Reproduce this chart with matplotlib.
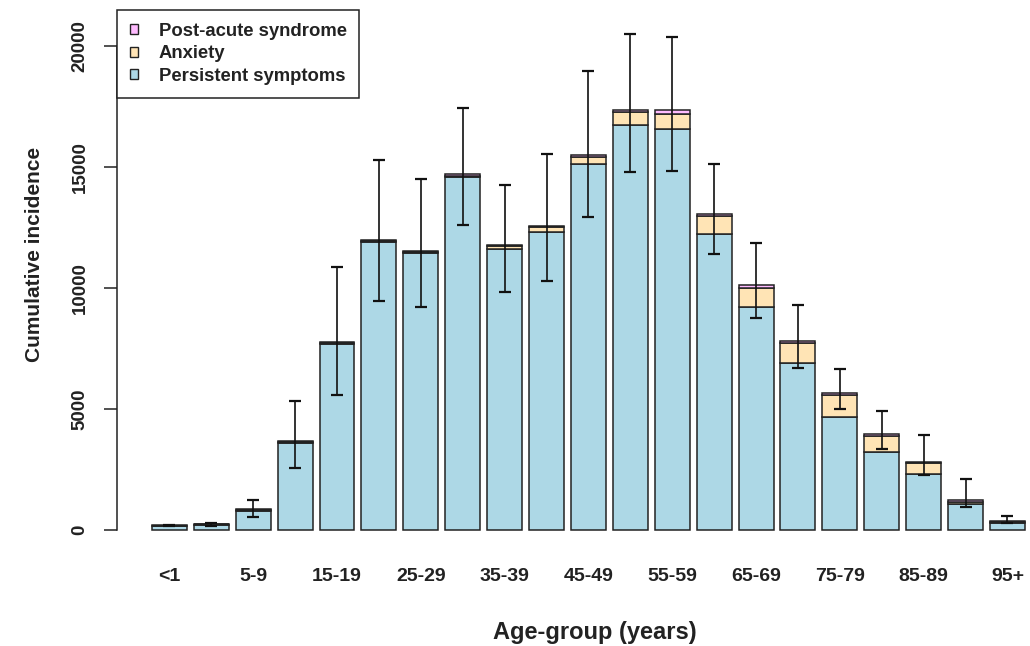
import matplotlib
matplotlib.use("Agg")
import matplotlib.pyplot as plt
from matplotlib.patches import Patch
import numpy as np

plt.rcParams['font.family'] = ['Liberation Sans', 'DejaVu Sans']
plt.rcParams['font.weight'] = 'bold'

age_groups = ["<1", "1-4", "5-9", "10-14", "15-19", "20-24", "25-29", "30-34",
              "35-39", "40-44", "45-49", "50-54", "55-59", "60-64", "65-69",
              "70-74", "75-79", "80-84", "85-89", "90-94", "95+"]
persistent = [150, 220, 790, 3600, 7700, 11900, 11430, 14580, 11620, 12330, 15110,
              16730, 16570, 12230, 9230, 6890, 4650, 3210, 2300, 1070, 300]
anxiety = [10, 10, 20, 20, 30, 30, 40, 60, 100, 180, 320,
           560, 635, 750, 790, 850, 930, 670, 450, 100, 25]
post_acute = [40, 5, 50, 50, 35, 40, 50, 90, 60, 40, 60,
              50, 140, 70, 100, 80, 70, 70, 80, 90, 50]
err_low = [185, 165, 537, 2560, 5580, 9475, 9230, 12600, 9820, 10300, 12920,
           14800, 14850, 11400, 8750, 6680, 4990, 3350, 2270, 940, 275]
err_high = [215, 300, 1240, 5330, 10870, 15290, 14500, 17440, 14260, 15540, 18980,
            20500, 20360, 15110, 11850, 9290, 6640, 4930, 3910, 2090, 580]
yticks = [0, 5000, 10000, 15000, 20000]

c_blue = "#ADD8E6"
c_anx = "#FFE4B5"
c_pink = "#FFBBFF"
edge = "#222222"

W, H = 1030, 646
fig = plt.figure(figsize=(W / 100, H / 100), dpi=100)
ax = fig.add_axes([117 / W, (H - 550) / H, (W - 117) / W, 540 / H])

n = len(age_groups)
x = 0.7 + 1.2 * np.arange(n)
pers = np.array(persistent, float)
anx = np.array(anxiety, float)
pas = np.array(post_acute, float)

ax.bar(x, pers, width=1.0, color=c_blue, edgecolor=edge, linewidth=1.1)
ax.bar(x, anx, width=1.0, bottom=pers, color=c_anx, edgecolor=edge, linewidth=1.1)
ax.bar(x, pas, width=1.0, bottom=pers + anx, color=c_pink, edgecolor=edge, linewidth=1.1)

lo = np.array(err_low, float)
hi = np.array(err_high, float)
ax.errorbar(x, (lo + hi) / 2, yerr=(hi - lo) / 2, fmt='none', ecolor='#111111',
            elinewidth=1.2, capsize=4, capthick=1.6)

ax.set_xlim(-0.8, 25.345)
ax.set_ylim(-826, 21488)

for s in ['top', 'right', 'bottom']:
    ax.spines[s].set_visible(False)
ax.spines['left'].set_bounds(0, 20000)
ax.spines['left'].set_color('#222222')
ax.spines['left'].set_linewidth(1.1)

ax.set_yticks(yticks)
ax.set_yticklabels([str(v) for v in yticks], rotation=90, va='center', fontsize=13.5,
                   fontweight='bold', color='#222222')
ax.tick_params(axis='y', length=9.4, width=1.1, color='#222222', pad=11)

ax.set_xticks(x[::2])
ax.set_xticklabels(age_groups[::2], fontsize=14, fontweight='bold', color='#222222')
ax.tick_params(axis='x', length=0, pad=13)

fig.text(595 / W, 1 - 632 / H, "Age-group (years)", ha='center', va='center',
         fontsize=17, fontweight='bold', color='#222222')
fig.text(35 / W, 1 - 254 / H, "Cumulative incidence", ha='center', va='center',
         rotation=90, fontsize=15, fontweight='bold', color='#222222')

handles = [Patch(facecolor=c_pink, edgecolor=edge, linewidth=1.0),
           Patch(facecolor=c_anx, edgecolor=edge, linewidth=1.0),
           Patch(facecolor=c_blue, edgecolor=edge, linewidth=1.0)]
labels = ["Post-acute syndrome", "Anxiety", "Persistent symptoms"]
leg = ax.legend(handles, labels, loc='upper left', bbox_to_anchor=(0, 1),
                borderaxespad=0, fancybox=False, framealpha=1, edgecolor='#222222',
                prop={'size': 13.3, 'weight': 'bold'}, handlelength=0.45,
                handleheight=0.45, handletextpad=1.1, labelspacing=0.3,
                borderpad=0.7)
leg.get_frame().set_linewidth(1.1)
for t in leg.get_texts():
    t.set_color('#222222')

fig.savefig("out.png", dpi=100)
